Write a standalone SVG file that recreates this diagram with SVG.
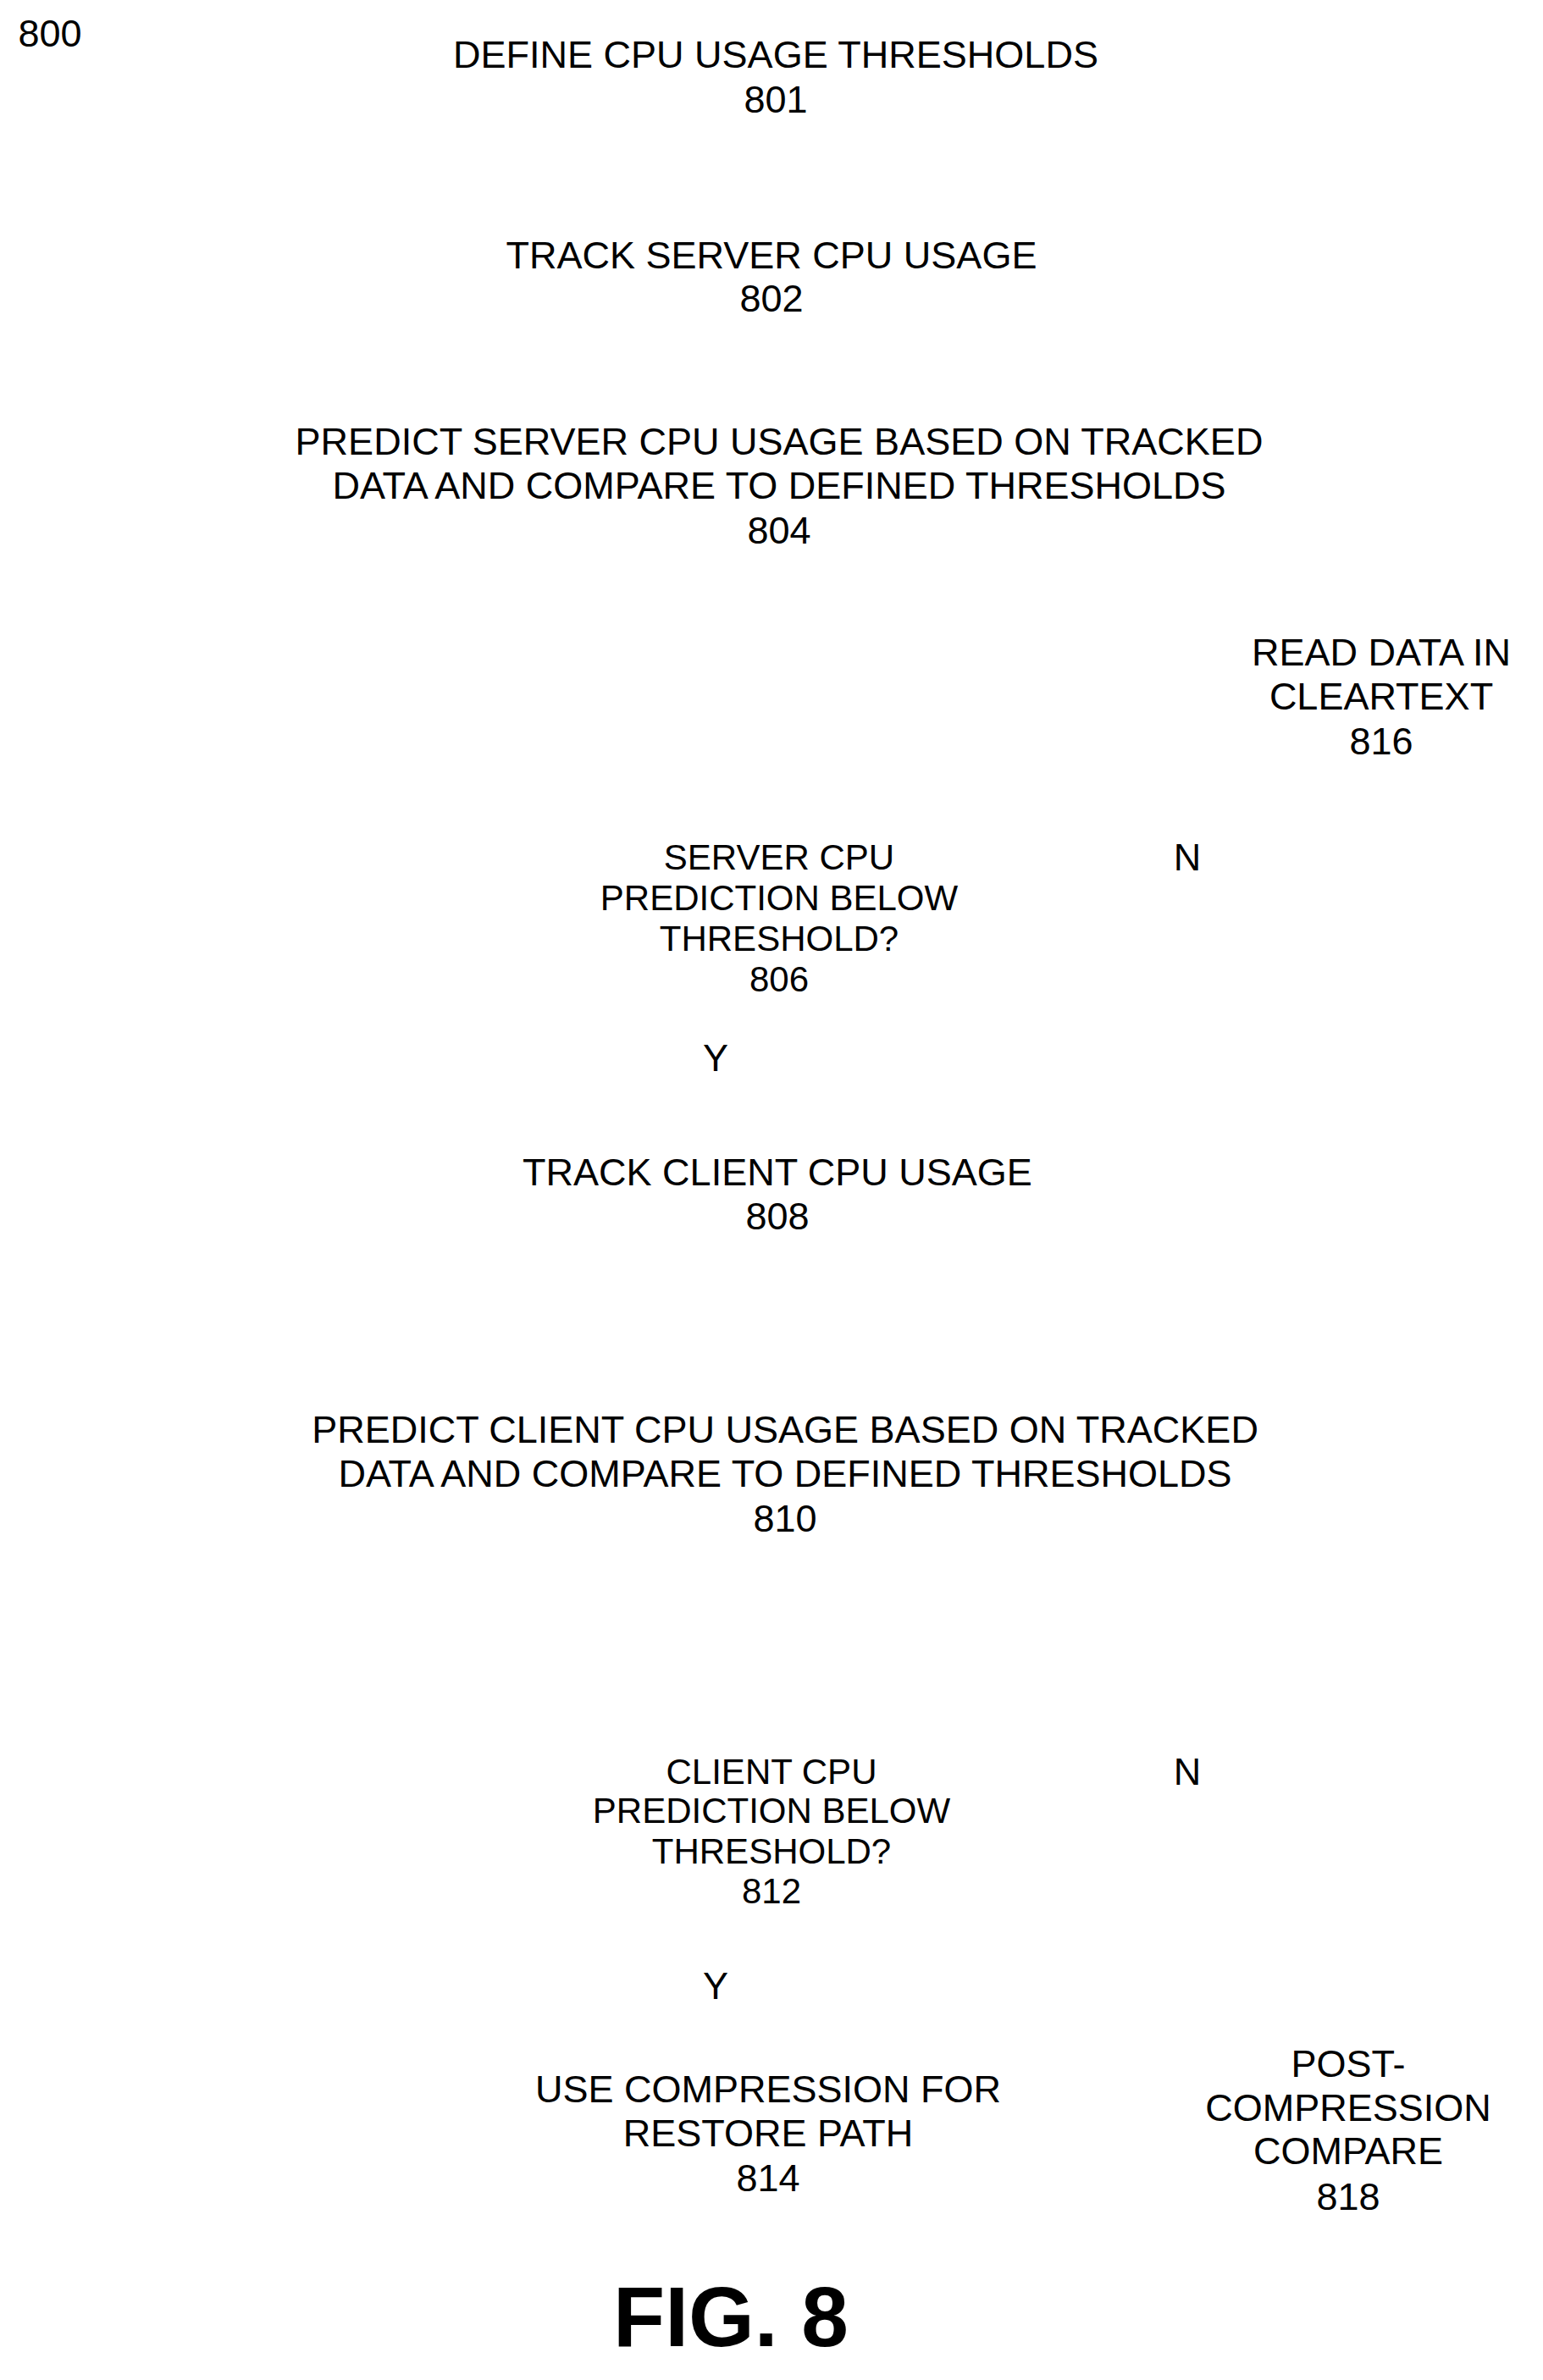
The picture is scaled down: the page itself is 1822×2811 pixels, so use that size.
<svg xmlns="http://www.w3.org/2000/svg" width="1822" height="2811" viewBox="0 0 1822 2811">
<style>
text{font-family:"Liberation Sans",Arial,sans-serif;fill:#000;text-anchor:middle;dominant-baseline:central}
.m{font-size:45px}.d{font-size:42px}.f{font-size:100px;font-weight:bold}
</style>
<rect width="1822" height="2811" fill="#fff"/>
<g id="label800"><text class="m" x="59" y="39">800</text></g>
<g id="n801"><text class="m" x="916" y="64">DEFINE CPU USAGE THRESHOLDS</text><text class="m" x="916" y="117">801</text></g>
<g id="n802"><text class="m" x="911" y="301">TRACK SERVER CPU USAGE</text><text class="m" x="911" y="352">802</text></g>
<g id="n804"><text class="m" x="920" y="521">PREDICT SERVER CPU USAGE BASED ON TRACKED</text><text class="m" x="920" y="573">DATA AND COMPARE TO DEFINED THRESHOLDS</text><text class="m" x="920" y="626">804</text></g>
<g id="n816"><text class="m" x="1631" y="770">READ DATA IN</text><text class="m" x="1631" y="822">CLEARTEXT</text><text class="m" x="1631" y="875">816</text></g>
<g id="n806"><text class="d" x="920" y="1012">SERVER CPU</text><text class="d" x="920" y="1060">PREDICTION BELOW</text><text class="d" x="920" y="1108">THRESHOLD?</text><text class="d" x="920" y="1156">806</text></g>
<g id="n808"><text class="m" x="918" y="1384">TRACK CLIENT CPU USAGE</text><text class="m" x="918" y="1436">808</text></g>
<g id="n810"><text class="m" x="927" y="1688">PREDICT CLIENT CPU USAGE BASED ON TRACKED</text><text class="m" x="927" y="1740">DATA AND COMPARE TO DEFINED THRESHOLDS</text><text class="m" x="927" y="1793">810</text></g>
<g id="n812"><text class="d" x="911" y="2092">CLIENT CPU</text><text class="d" x="911" y="2138">PREDICTION BELOW</text><text class="d" x="911" y="2186">THRESHOLD?</text><text class="d" x="911" y="2233">812</text></g>
<g id="n814"><text class="m" x="907" y="2467">USE COMPRESSION FOR</text><text class="m" x="907" y="2519">RESTORE PATH</text><text class="m" x="907" y="2572">814</text></g>
<g id="n818"><text class="m" x="1592" y="2437">POST-</text><text class="m" x="1592" y="2489">COMPRESSION</text><text class="m" x="1592" y="2540">COMPARE</text><text class="m" x="1592" y="2594">818</text></g>
<g id="connectors"><text class="m" x="1402" y="1012">N</text><text class="m" x="845" y="1249">Y</text><text class="m" x="1402" y="2092">N</text><text class="m" x="845" y="2345">Y</text></g>
<g id="caption"><text class="f" x="863" y="2736">FIG.  8</text></g>
</svg>
